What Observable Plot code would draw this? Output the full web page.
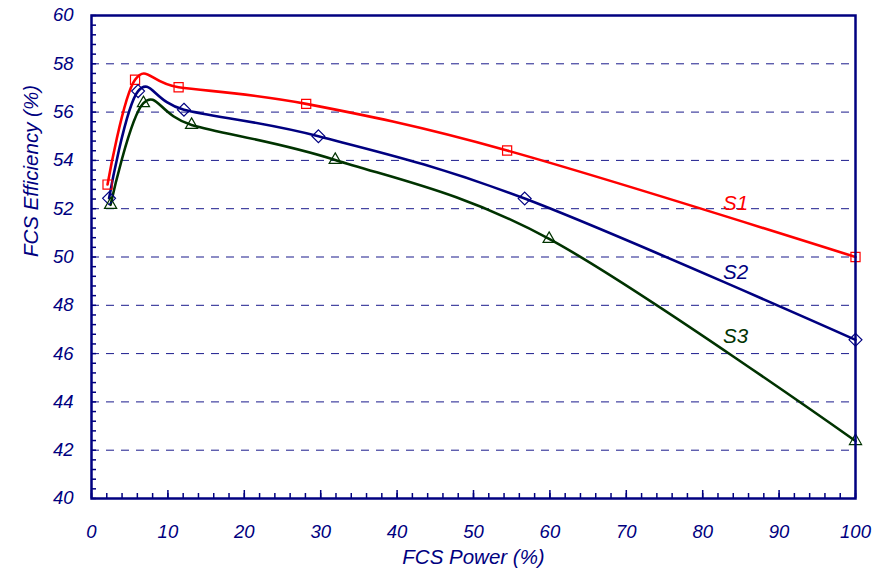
<!DOCTYPE html>
<html><head><meta charset="utf-8">
<script src="https://cdn.jsdelivr.net/npm/d3@7"></script>
<script src="https://cdn.jsdelivr.net/npm/@observablehq/plot@0.6"></script>
<style>body{margin:0;background:#fff}#chart{width:886px;height:575px}svg text{font-style:italic}</style>
</head><body><div id="chart"></div>
<script>
// Series data
const seriesNames = ["S1", "S2", "S3"];
const seriesColors = ["#ff0000", "#000080", "#003300"];
const seriesSymbols = ["square2", "diamond2", "triangle2"];

const s1Power = [2.1, 5.7, 11.4, 28.1, 54.4, 100];
const s1Eff   = [53.0, 57.34, 57.03, 56.34, 54.41, 50.0];

const s2Power = [2.3, 6.1, 12.1, 29.7, 56.7, 100];
const s2Eff   = [52.43, 56.87, 56.1, 55.0, 52.42, 46.57];

const s3Power = [2.5, 6.8, 13.1, 31.9, 59.9, 100];
const s3Eff   = [52.16, 56.37, 55.47, 54.02, 50.75, 42.38];

// Series label anchors (data units)
const labelPower = [84.3, 84.3, 84.3];
const labelEff   = [52.2, 49.36, 46.7];

// Axis ticks
const xTickLabels = [0, 10, 20, 30, 40, 50, 60, 70, 80, 90, 100];
const xMinorTicks = d3.range(0, 101, 2);
const yTickLabels = [40, 42, 44, 46, 48, 50, 52, 54, 56, 58, 60];
const yMinorTicks = d3.range(0, 51).map(i => 40 + i * 0.4);
const yGrid = [42, 44, 46, 48, 50, 52, 54, 56, 58];

const powers = [s1Power, s2Power, s3Power];
const effs = [s1Eff, s2Eff, s3Eff];
const rows = seriesNames.flatMap((name, k) =>
  powers[k].map((p, i) => ({series: name, power: p, eff: effs[k][i]})));
const labels = seriesNames.map((name, k) => ({series: name, power: labelPower[k], eff: labelEff[k]}));

const navy = "#000080";
const colorScale = {domain: seriesNames, range: seriesColors};
const symbolScale = {domain: seriesNames, range: seriesSymbols};

const chart = Plot.plot({
  width: 886,
  height: 575,
  marginLeft: 91,
  marginRight: 31,
  marginTop: 15,
  marginBottom: 77,
  style: {fontFamily: "'Liberation Sans', Arial, sans-serif", fontStyle: "italic", color: navy, background: "#fff"},
  x: {domain: [0, 100], axis: null},
  y: {domain: [40, 60], axis: null},
  color: colorScale,
  symbol: symbolScale,
  marks: [
    Plot.ruleY(yGrid, {stroke: navy, strokeWidth: 1, strokeDasharray: "8,7", strokeOpacity: 0.9}),
    Plot.axisX({ticks: xMinorTicks, tickSize: -5, tickFormat: () => "", label: null, stroke: navy, strokeWidth: 1.5}),
    Plot.axisX({ticks: xTickLabels, tickSize: -8, tickPadding: 34, fontSize: 18.5, fontStyle: "italic", label: null, stroke: navy, strokeWidth: 1.5, fill: navy}),
    Plot.axisY({ticks: yMinorTicks, tickSize: -5, tickFormat: () => "", label: null, stroke: navy, strokeWidth: 1.5}),
    Plot.axisY({ticks: yTickLabels, tickSize: 0, tickPadding: 18, fontSize: 18.5, fontStyle: "italic", label: null, fill: navy}),
    Plot.line(rows, {x: "power", y: "eff", z: "series", stroke: "series", strokeWidth: 2.6, curve: "cardinal"}),
    Plot.dot(rows, {x: "power", y: "eff", symbol: "series", stroke: "series", fill: "none", r: 5.8, strokeWidth: 1.2}),
    Plot.text(labels, {x: "power", y: "eff", text: "series", fill: "series", fontSize: 20.5, fontStyle: "italic"}),
    Plot.frame({stroke: navy, strokeWidth: 2.5}),
    Plot.text(["FCS Efficiency (%)"], {frameAnchor: "left", dx: -60, rotate: -90, fontSize: 20.5, fontStyle: "italic", fill: navy}),
    Plot.text(["FCS Power (%)"], {frameAnchor: "bottom", dy: 65, fontSize: 20.5, fontStyle: "italic", fill: navy})
  ]
});
document.getElementById("chart").appendChild(chart);
</script>
</body></html>
